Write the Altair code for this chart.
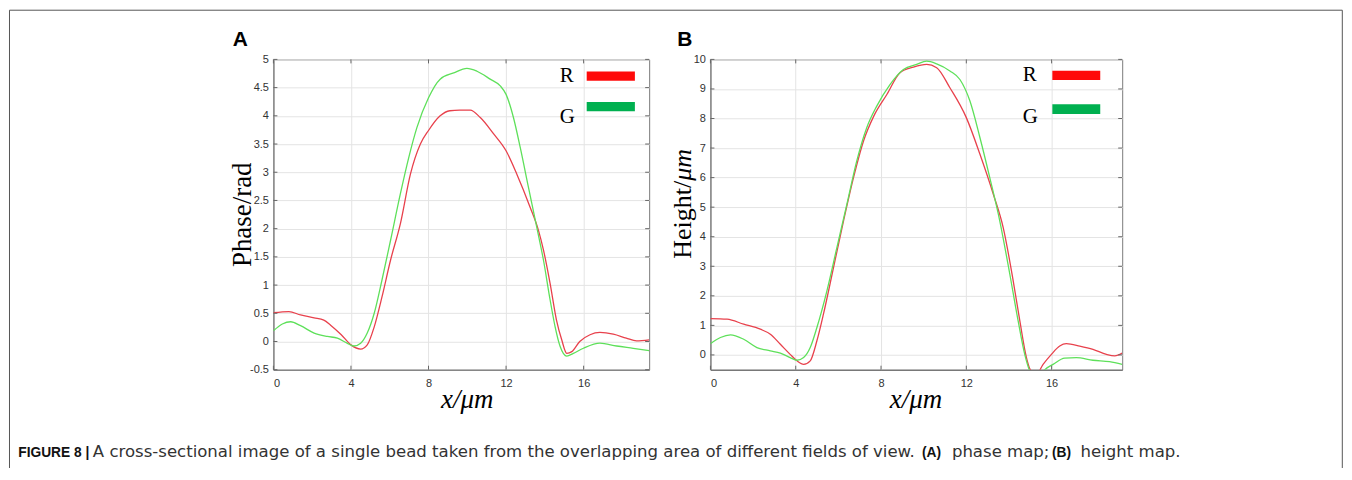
import altair as alt
import pandas as pd

# ---------------- data ----------------
A_RED_X = [0, 0.8, 1.4, 2.1, 2.6, 2.95, 3.5, 4.0, 4.5, 4.84, 5.2, 5.6, 6.04, 6.55, 7.07, 7.58, 8.0, 8.6, 9.1,
           9.6, 10.15, 10.67, 11.36, 12.0, 12.55, 13.24, 13.67, 13.93, 14.27, 14.6, 14.87, 15.13, 15.39, 15.8,
           16.33, 16.84, 17.53, 18.2, 18.73, 19.38]
A_RED_Y = [0.51, 0.53, 0.47, 0.42, 0.38, 0.29, 0.12, -0.06, -0.135, -0.06, 0.26, 0.79, 1.44, 2.09, 2.97, 3.5,
           3.74, 4.0, 4.09, 4.1, 4.1, 3.97, 3.68, 3.38, 2.97, 2.38, 1.97, 1.62, 1.03, 0.38, 0.03, -0.21, -0.18,
           0.0, 0.12, 0.16, 0.13, 0.06, 0.01, 0.03]
A_GREEN_X = [0, 0.46, 0.89, 1.4, 2.1, 2.78, 3.3, 3.8, 4.15, 4.5, 4.84, 5.2, 5.6, 6.04, 6.55, 6.98, 7.4, 8.0,
             8.6, 9.3, 9.98, 10.5, 11.18, 11.7, 12.0, 12.38, 12.73, 13.15, 13.58, 13.93, 14.27, 14.53, 14.79,
             15.13, 15.47, 15.99, 16.84, 17.7, 18.56, 19.38]
A_GREEN_Y = [0.19, 0.31, 0.35, 0.28, 0.15, 0.09, 0.06, -0.03, -0.08, -0.03, 0.15, 0.5, 1.09, 1.79, 2.62, 3.26,
             3.79, 4.32, 4.65, 4.76, 4.84, 4.79, 4.65, 4.53, 4.38, 3.97, 3.44, 2.74, 2.03, 1.44, 0.74, 0.26,
             -0.09, -0.26, -0.21, -0.12, -0.03, -0.08, -0.12, -0.16]

B_RED_X = [0, 0.78, 1.56, 2.34, 2.81, 3.28, 3.74, 4.06, 4.37, 4.68, 4.99, 5.3, 5.77, 6.24, 6.71, 7.18, 7.66,
           8.28, 8.89, 9.52, 10.14, 10.61, 11.23, 12.0, 12.64, 13.27, 13.73, 14.2, 14.51, 14.82, 15.0, 15.29,
           15.6, 15.99, 16.38, 16.69, 17.32, 17.94, 18.57, 18.96, 19.31]
B_RED_Y = [1.23, 1.21, 1.04, 0.87, 0.7, 0.36, 0.02, -0.2, -0.32, -0.2, 0.47, 1.38, 2.95, 4.53, 6.0, 7.24, 8.08,
           8.82, 9.55, 9.74, 9.83, 9.72, 9.04, 8.03, 6.79, 5.43, 4.31, 2.5, 1.15, -0.09, -0.5, -0.65, -0.32,
           0.02, 0.3, 0.38, 0.3, 0.19, 0.02, -0.03, 0.06]
B_GREEN_X = [0, 0.47, 0.94, 1.56, 2.18, 2.81, 3.28, 3.74, 4.06, 4.37, 4.68, 4.99, 5.46, 5.93, 6.4, 6.86, 7.33,
             7.8, 8.42, 9.05, 9.67, 10.14, 10.61, 11.23, 11.7, 12.17, 12.64, 13.1, 13.57, 14.04, 14.43, 14.74,
             14.95, 15.29, 15.68, 16.07, 16.61, 17.16, 17.94, 18.72, 19.31]
B_GREEN_Y = [0.38, 0.59, 0.68, 0.53, 0.25, 0.14, 0.06, -0.09, -0.18, -0.09, 0.25, 0.92, 2.16, 3.63, 5.1, 6.56,
             7.69, 8.42, 9.15, 9.66, 9.83, 9.94, 9.85, 9.61, 9.32, 8.59, 7.35, 6.0, 4.53, 2.73, 1.15, 0.02,
             -0.5, -0.88, -0.5, -0.32, -0.11, -0.09, -0.18, -0.23, -0.32]

SERIES = ["R", "G"]
X_TICKS = [0, 4, 8, 12, 16]
A_Y_TICKS = [-0.5, 0, 0.5, 1, 1.5, 2, 2.5, 3, 3.5, 4, 4.5, 5]
B_Y_TICKS = [0, 1, 2, 3, 4, 5, 6, 7, 8, 9, 10]

CAPTION_BOLD = ["FIGURE 8 |", "(A)", "(B)"]
CAPTION_NORMAL = ["A cross-sectional image of a single bead taken from the overlapping area of different "
                  "fields of view.", "phase map;", "height map."]

# ---------------- styling ----------------
LINE_RED = "#e8414c"
LINE_GREEN = "#5ee05a"
BAR_RED = "#ff0a0a"
BAR_GREEN = "#00b050"
SERIF = "Liberation Serif"
SANS = "Liberation Sans"
CAP_SANS = "DejaVu Sans"

ONE = pd.DataFrame({"k": [0]})


def frame(xr, yr, xg, yg):
    return pd.concat([
        pd.DataFrame({"x": xr, "y": yr, "series": "R"}),
        pd.DataFrame({"x": xg, "y": yg, "series": "G"}),
    ], ignore_index=True)


def txt(s, x, y, **kw):
    opts = dict(align="left", baseline="alphabetic", color="#000")
    opts.update(kw)
    return alt.Chart(ONE).mark_text(text=s, **opts).encode(x=alt.value(x), y=alt.value(y))


def rect(x1, x2, y1, y2, color):
    return alt.Chart(ONE).mark_rect(color=color).encode(
        x=alt.value(x1), x2=alt.value(x2), y=alt.value(y1), y2=alt.value(y2))


def rule(x1, x2, y1, y2):
    return alt.Chart(ONE).mark_rule(color="#555", strokeWidth=1).encode(
        x=alt.value(x1), x2=alt.value(x2), y=alt.value(y1), y2=alt.value(y2))


def encodings(xdom, ydom, yticks):
    xs = alt.Scale(domain=xdom, nice=False, zero=False)
    ys = alt.Scale(domain=ydom, nice=False, zero=False)
    xa = alt.Axis(values=X_TICKS, title=None, labelPadding=8, labelOverlap=False, labelExpr="'' + datum.value")
    ya = alt.Axis(values=yticks, title=None, labelPadding=5, labelOverlap=False, labelExpr="'' + datum.value")
    return xs, ys, xa, ya


def inner_ticks(xdom, ydom, yticks, w, h):
    xs, ys, xa, ya = encodings(xdom, ydom, yticks)
    xt = pd.DataFrame({"x": X_TICKS})
    yt = pd.DataFrame({"y": yticks})
    base = dict(color="#666", strokeWidth=1)
    return [
        alt.Chart(yt).mark_rule(**base).encode(y=alt.Y("y:Q", scale=ys, axis=ya),
                                               x=alt.value(w - 4), x2=alt.value(w)),
        alt.Chart(yt).mark_rule(**base).encode(y=alt.Y("y:Q", scale=ys, axis=ya),
                                               x=alt.value(0), x2=alt.value(4)),
        alt.Chart(xt).mark_rule(**base).encode(x=alt.X("x:Q", scale=xs, axis=xa),
                                               y=alt.value(0), y2=alt.value(4)),
        alt.Chart(xt).mark_rule(**base).encode(x=alt.X("x:Q", scale=xs, axis=xa),
                                               y=alt.value(h - 4), y2=alt.value(h)),
    ]


def lines(df, xdom, ydom, yticks):
    xs, ys, xa, ya = encodings(xdom, ydom, yticks)
    return alt.Chart(df).mark_line(clip=True, interpolate="monotone", strokeWidth=1.3).encode(
        x=alt.X("x:Q", scale=xs, axis=xa),
        y=alt.Y("y:Q", scale=ys, axis=ya),
        color=alt.Color("series:N", scale=alt.Scale(domain=SERIES, range=[LINE_RED, LINE_GREEN]), legend=None),
    )


def legend(xt, xb1, xb2, yr, yg, ybr, ybg):
    return [
        txt("R", xt, yr, font=SERIF, fontSize=21),
        txt("G", xt, yg, font=SERIF, fontSize=21),
        rect(xb1, xb2, ybr[0], ybr[1], BAR_RED),
        rect(xb1, xb2, ybg[0], ybg[1], BAR_GREEN),
    ]


# ---------------- panel A (origin at page 272.7, 58.3) ----------------
WA, WB, H = 376.6, 412.7, 311
dfA = frame(A_RED_X, A_RED_Y, A_GREEN_X, A_GREEN_Y)
capY = 398.4
CAP_SIZE = 16.6
decoA = [
    # outer figure border (top, left, right)
    rule(-264.5, 1071.3, -49.3, -49.3),
    rule(-264.5, -264.5, -49.3, 409.5),
    rule(1071.3, 1071.3, -49.3, 409.5),
    txt("A", -40.7, -13.3, font=SANS, fontSize=21, fontWeight="bold"),
    txt("Phase/rad", -30.7, 155.7, font=SERIF, fontSize=27, angle=270, align="center", baseline="middle"),
    txt("x/\u03bcm", 194.3, 349.7, font=SERIF, fontSize=27, fontStyle="italic", align="center"),
    # caption
    txt(CAPTION_BOLD[0], -255.7, capY, font=SANS, fontSize=13.8, fontWeight="bold", color="#111"),
    txt(CAPTION_NORMAL[0], -181.0, capY, font=CAP_SANS, fontSize=CAP_SIZE, color="#333"),
    txt(CAPTION_BOLD[1], 650.0, capY, font=SANS, fontSize=13.8, fontWeight="bold", color="#111"),
    txt(CAPTION_NORMAL[1], 680.0, capY, font=CAP_SANS, fontSize=CAP_SIZE, color="#333"),
    txt(CAPTION_BOLD[2], 780.3, capY, font=SANS, fontSize=13.8, fontWeight="bold", color="#111"),
    txt(CAPTION_NORMAL[2], 809.0, capY, font=CAP_SANS, fontSize=CAP_SIZE, color="#333"),
]
decoA += legend(287.0, 314.0, 362.3, 23.0, 64.0, (12.0, 21.3), (42.7, 52.0))
chartA = alt.layer(lines(dfA, [0, 19.38], [-0.5, 5], A_Y_TICKS),
                   *inner_ticks([0, 19.38], [-0.5, 5], A_Y_TICKS, WA, H),
                   *decoA).properties(width=WA, height=H)

# ---------------- panel B (origin at page 710, 58.3) ----------------
dfB = frame(B_RED_X, B_RED_Y, B_GREEN_X, B_GREEN_Y)
decoB = [
    txt("B", -33.3, -13.3, font=SANS, fontSize=21, fontWeight="bold"),
    txt("Height/", -27.0, 199.7, font=SERIF, fontSize=26, angle=270, baseline="middle"),
    txt("\u03bcm", -27.0, 121.7, font=SERIF, fontSize=26, angle=270, baseline="middle", fontStyle="italic"),
    txt("x/\u03bcm", 206.0, 349.7, font=SERIF, fontSize=27, fontStyle="italic", align="center"),
]
decoB += legend(313.0, 342.7, 390.7, 22.0, 63.7, (11.3, 20.7), (45.0, 54.7))
chartB = alt.layer(lines(dfB, [0, 19.31], [-0.5, 10], B_Y_TICKS),
                   *inner_ticks([0, 19.31], [-0.5, 10], B_Y_TICKS, WB, H),
                   *decoB).properties(width=WB, height=H)

chart = alt.hconcat(chartA, chartB, spacing=61, bounds="flush", padding=0).configure_view(
    stroke="#7a7a7a", strokeWidth=1
).configure_axis(
    labelFont=SANS, labelFontSize=11, labelColor="#333", gridColor="#e4e4e4", domainColor="#666",
    ticks=False, domain=True
)

chart.save("out.html", embed_options={"renderer": "svg", "actions": False})
